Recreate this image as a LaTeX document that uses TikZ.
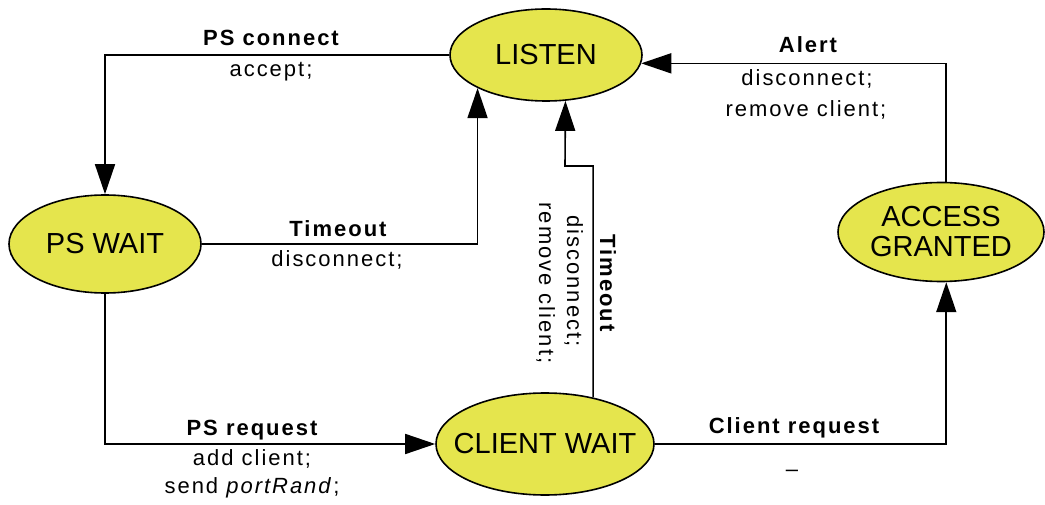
\documentclass[tikz,border=0pt]{standalone}
\usepackage{fontspec}
\setmainfont{Liberation Sans}
\newfontfamily\lblfont[LetterSpace=9]{Liberation Sans}
\usetikzlibrary{shapes.geometric,arrows.meta}
\definecolor{stateyellow}{RGB}{229,229,77}
\begin{document}
\begin{tikzpicture}[x=1pt,y=-1pt,
  state/.style={ellipse,draw=black,line width=1.6pt,fill=stateyellow,
    inner xsep=-50pt,inner ysep=-10pt,
    align=center,font=\fontsize{29}{30}\selectfont},
  edge/.style={line width=1.6pt,line join=miter,-{Triangle[width=20pt,length=30pt]}},
  lbl/.style={anchor=base,inner sep=0pt,font=\lblfont\fontsize{22}{26}\selectfont},
  head/.style={anchor=base,inner sep=0pt,font=\lblfont\bfseries\fontsize{22}{26}\selectfont}]
\useasboundingbox (0,0) rectangle (1045,505);

% states
\node[state,minimum width=192pt,minimum height=92pt]  (listen) at (546,55)  {LISTEN};
\node[state,minimum width=192pt,minimum height=98pt]  (pswait) at (105,244) {PS WAIT};
\node[state,minimum width=218pt,minimum height=102pt] (client) at (545,444) {CLIENT WAIT};
\node[state,minimum width=206pt,minimum height=99pt]  (access) at (941,232) {ACCESS\\GRANTED};

% transitions
\draw[edge] (listen.west) -| (pswait.north);
\draw[edge] (pswait.east) -| (listen.south west);
\coordinate (tbend) at (565,166);
\draw[edge] (client.44) |- (tbend) -- (listen.-67);
\draw[edge] (pswait.south) |- (client.west);
\draw[edge] (client.east) -| (access.-84);
\draw[edge] (access.84) |- (listen.-5);

% transition labels
\node[head] (l1a) at (271,46)  {PS connect};
\node[lbl]  (l1b) at (271,77)  {accept;};

\node[head] (l2a) at (338,237) {Timeout};
\node[lbl]  (l2b) at (337,267) {disconnect;};

\node[head] (l3a) at (808,53)  {Alert};
\node[lbl]  (l3b) at (807,86)  {disconnect;};
\node[lbl]  (l3c) at (806,117) {remove client;};

\node[head] (l4a) at (252,435) {PS request};
\node[lbl]  (l4b) at (252,465) {add client;};
\node[lbl]  (l4c) at (252,493) {send \textit{portRand};};

\node[head] (l5a) at (794,433) {Client request};
\node[lbl]  (l5b) at (792,476) {–};

\node[head,rotate=-90] (l6a) at (600,283) {Timeout};
\node[lbl,rotate=-90]  (l6b) at (567,281) {disconnect;};
\node[lbl,rotate=-90]  (l6c) at (539,283) {remove client;};
\end{tikzpicture}
\end{document}
